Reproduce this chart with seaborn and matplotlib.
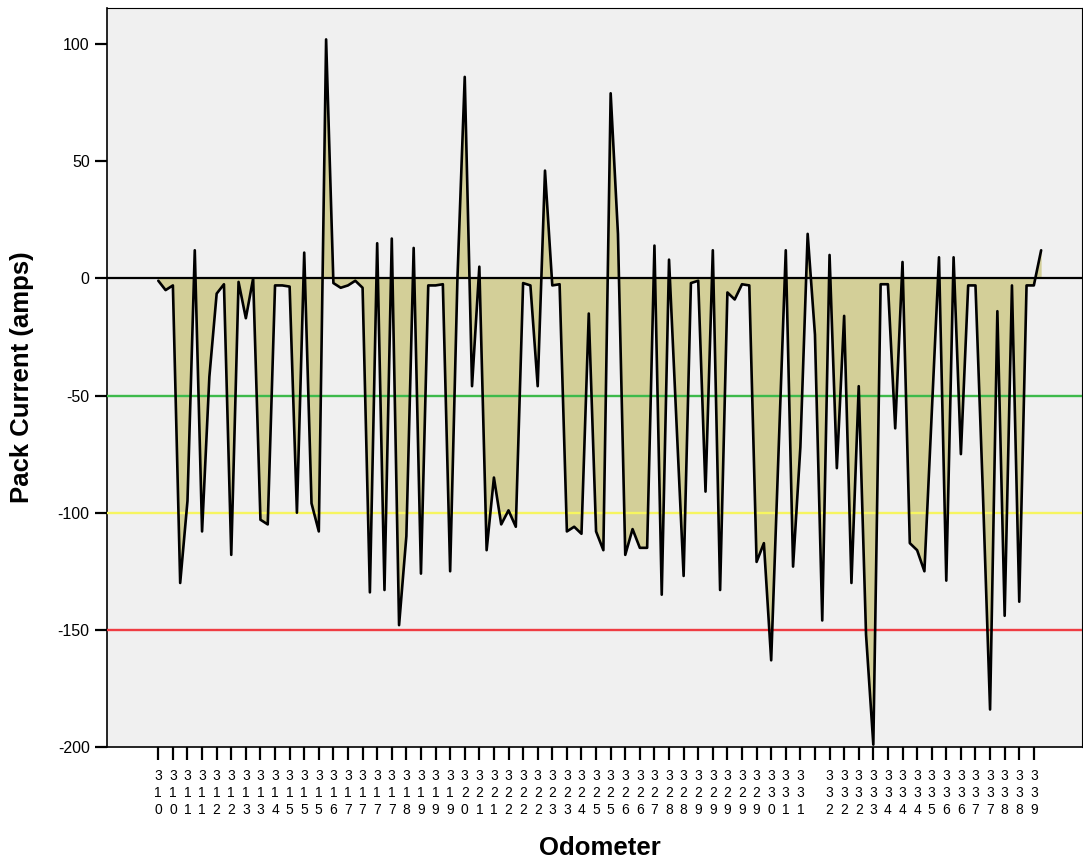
import numpy as np
import pandas as pd
import matplotlib
matplotlib.use("Agg")
import matplotlib.pyplot as plt
import seaborn as sns

# Odometer reading shown under every second record (blank where the reading is missing)
odometer_labels = [
    "310", "310", "311", "311", "312", "312", "313", "313", "314", "315", "315",
    "315", "316", "317", "317", "317", "317", "318", "319", "319", "319", "320",
    "321", "321", "322", "322", "322", "323", "323", "324", "325", "325", "326",
    "326", "327", "328", "328", "329", "329", "329", "329", "329", "330",
    "331", "331", "", "332", "332", "332", "333", "334", "334", "334", "335",
    "336", "336", "337", "337", "338", "338", "339",
]

# Pack current per record (amps)
pack_current = [
    -1, -5, -3, -130, -95, 12, -108, -42, -6.5, -2.5,
    -118, -1.5, -17, 0, -103, -105, -3, -3, -3.5, -100,
    11, -96, -108, 102, -2, -4, -3, -1, -4, -134,
    15, -133, 17, -148, -110, 13, -126, -3, -3, -2.5,
    -125, 0, 86, -46, 5, -116, -85, -105, -99, -106,
    -2, -3, -46, 46, -3, -2.5, -108, -106, -109, -15,
    -108, -116, 79, 19, -118, -107, -115, -115, 14, -135,
    8, -60, -127, -2, -1, -91, 12, -133, -6, -9,
    -2.5, -3, -121, -113, -163, -75, 12, -123, -72, 19,
    -24, -146, 10, -81, -16, -130, -46, -152, -199, -2.5,
    -2.5, -64, 7, -113, -116, -125, -58, 9, -129, 9,
    -75, -3, -3, -90, -184, -14, -144, -3, -138, -3,
    -3, 12,
]

# Reference current levels and their colours
ref_levels = [-50, -100, -150]
ref_colors = ["#3dba4b", "#f6f560", "#ef3c42"]

y_ticks = [100, 50, 0, -50, -100, -150, -200]

sns.set_theme(style="ticks")
plt.rcParams["font.family"] = ["Liberation Sans", "DejaVu Sans"]
plt.rcParams["text.color"] = "black"

df = pd.DataFrame({"record": np.arange(len(pack_current)), "current": pack_current})

W, H = 1083, 861
fig = plt.figure(figsize=(W / 100, H / 100), dpi=100)
fig.patch.set_facecolor("white")
ax = fig.add_axes([107 / W, 1 - 747 / H, (1082 - 107) / W, (747 - 8) / H])
ax.set_facecolor("#f0f0f0")

# Area between the series and zero
ax.fill_between(df["record"], df["current"], 0, color="#d3cf98", lw=0, zorder=2)

for level, col in zip(ref_levels, ref_colors):
    ax.axhline(level, color=col, lw=1.7, zorder=3)
ax.axhline(0, color="black", lw=1.6, zorder=3)

sns.lineplot(data=df, x="record", y="current", color="black", lw=1.9,
             ax=ax, zorder=4, solid_joinstyle="round")

ax.set_xlim(-7.03, 126.6)
ax.set_ylim(-200, 115.4)

tick_pos = np.arange(0, len(pack_current), 2)[:len(odometer_labels)]
ax.set_xticks(tick_pos)
ax.set_xticklabels(["\n".join(lbl) for lbl in odometer_labels],
                   fontsize=10, linespacing=1.3)
ax.set_yticks(y_ticks)
ax.set_yticklabels([str(v) for v in y_ticks], fontsize=11.5)

ax.tick_params(axis="both", direction="out", length=9, width=1.6,
               color="black", labelcolor="black")
ax.tick_params(axis="x", pad=6.5)
ax.tick_params(axis="y", pad=3.5)

for side in ["left", "bottom", "top", "right"]:
    ax.spines[side].set_visible(True)
    ax.spines[side].set_color("black")
ax.spines["left"].set_linewidth(1.2)
ax.spines["bottom"].set_linewidth(1.2)
ax.spines["top"].set_linewidth(0.8)
ax.spines["right"].set_linewidth(0.8)

ax.set_xlabel("Odometer", fontsize=18.5, fontweight="bold", color="black")
ax.set_ylabel("Pack Current (amps)", fontsize=18.5, fontweight="bold", color="black")
ax.xaxis.label.set_va("center")
ax.yaxis.label.set_va("center")
ax.xaxis.set_label_coords(0.505, (747 - 848) / (747 - 8))
ax.yaxis.set_label_coords((22 - 107) / (1082 - 107), 0.5)

fig.savefig("out.png", dpi=100)
